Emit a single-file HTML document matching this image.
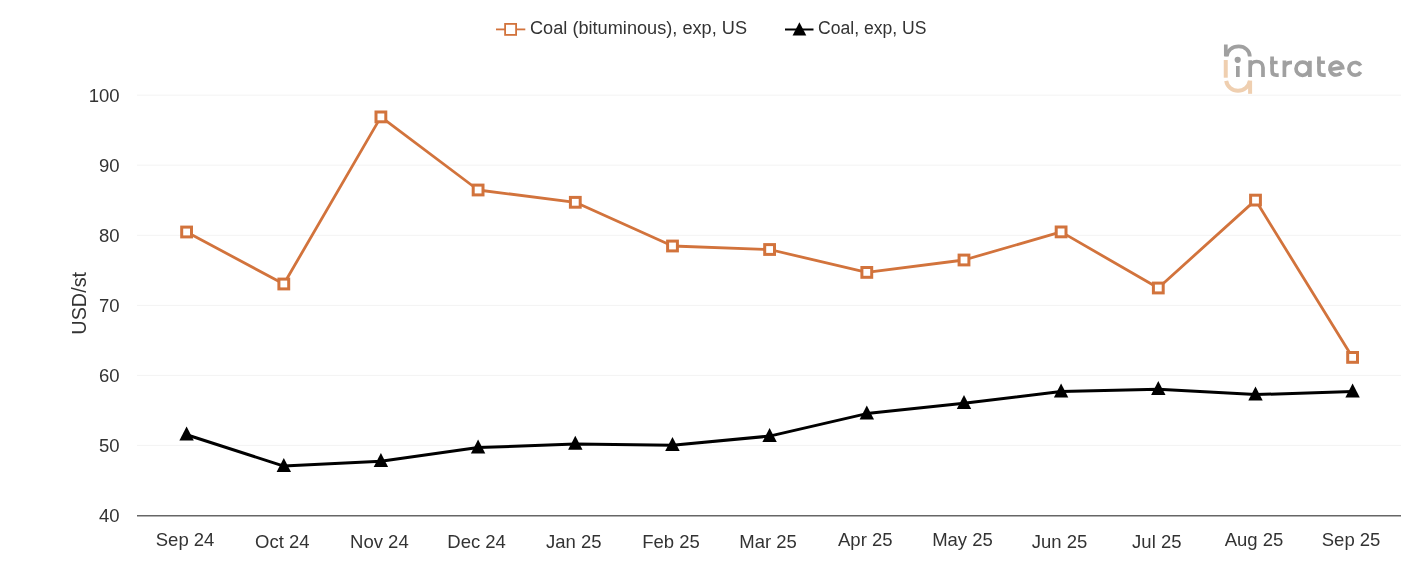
<!DOCTYPE html>
<html><head><meta charset="utf-8">
<style>
html,body{margin:0;padding:0;background:#fff;}
body{width:1401px;height:561px;overflow:hidden;position:relative;}
svg{position:absolute;left:0;top:0;will-change:transform;}
text{font-family:"Liberation Sans",sans-serif;}
</style></head><body>
<svg width="1401" height="561" viewBox="0 0 1401 561">

<line x1="137" y1="95.2" x2="1401" y2="95.2" stroke="#f3f3f3" stroke-width="1"/>
<line x1="137" y1="165.2" x2="1401" y2="165.2" stroke="#f3f3f3" stroke-width="1"/>
<line x1="137" y1="235.3" x2="1401" y2="235.3" stroke="#f3f3f3" stroke-width="1"/>
<line x1="137" y1="305.4" x2="1401" y2="305.4" stroke="#f3f3f3" stroke-width="1"/>
<line x1="137" y1="375.4" x2="1401" y2="375.4" stroke="#f3f3f3" stroke-width="1"/>
<line x1="137" y1="445.4" x2="1401" y2="445.4" stroke="#f3f3f3" stroke-width="1"/>
<line x1="137" y1="515.7" x2="1401" y2="515.7" stroke="#666" stroke-width="1.5"/>
<text x="119.6" y="101.7" font-size="18.5" fill="#333" text-anchor="end">100</text>
<text x="119.6" y="171.8" font-size="18.5" fill="#333" text-anchor="end">90</text>
<text x="119.6" y="241.8" font-size="18.5" fill="#333" text-anchor="end">80</text>
<text x="119.6" y="311.9" font-size="18.5" fill="#333" text-anchor="end">70</text>
<text x="119.6" y="381.9" font-size="18.5" fill="#333" text-anchor="end">60</text>
<text x="119.6" y="451.9" font-size="18.5" fill="#333" text-anchor="end">50</text>
<text x="119.6" y="522.0" font-size="18.5" fill="#333" text-anchor="end">40</text>
<text transform="translate(85.7,303.3) rotate(-90)" font-size="21" textLength="62.8" lengthAdjust="spacingAndGlyphs" fill="#333" text-anchor="middle">USD/st</text>
<text x="185.1" y="546.2" font-size="18.5" fill="#333" text-anchor="middle">Sep 24</text>
<text x="282.3" y="547.9" font-size="18.5" fill="#333" text-anchor="middle">Oct 24</text>
<text x="379.4" y="547.9" font-size="18.5" fill="#333" text-anchor="middle">Nov 24</text>
<text x="476.6" y="547.9" font-size="18.5" fill="#333" text-anchor="middle">Dec 24</text>
<text x="573.8" y="547.9" font-size="18.5" fill="#333" text-anchor="middle">Jan 25</text>
<text x="671.0" y="547.9" font-size="18.5" fill="#333" text-anchor="middle">Feb 25</text>
<text x="768.1" y="547.9" font-size="18.5" fill="#333" text-anchor="middle">Mar 25</text>
<text x="865.3" y="546.3" font-size="18.5" fill="#333" text-anchor="middle">Apr 25</text>
<text x="962.5" y="546.3" font-size="18.5" fill="#333" text-anchor="middle">May 25</text>
<text x="1059.6" y="547.9" font-size="18.5" fill="#333" text-anchor="middle">Jun 25</text>
<text x="1156.8" y="547.9" font-size="18.5" fill="#333" text-anchor="middle">Jul 25</text>
<text x="1254.0" y="546.3" font-size="18.5" fill="#333" text-anchor="middle">Aug 25</text>
<text x="1351.1" y="546.2" font-size="18.5" fill="#333" text-anchor="middle">Sep 25</text>
<polyline points="186.6,232.0 283.8,284.0 380.9,116.9 478.1,190.0 575.3,202.3 672.5,246.0 769.6,249.5 866.8,272.4 964.0,260.0 1061.1,231.9 1158.3,288.0 1255.5,200.1 1352.6,357.4" fill="none" stroke="#d2733c" stroke-width="2.8" stroke-linejoin="round" stroke-linecap="round"/>
<rect x="181.7" y="227.1" width="9.8" height="9.8" fill="#fff" stroke="#d2733c" stroke-width="3"/>
<rect x="278.9" y="279.1" width="9.8" height="9.8" fill="#fff" stroke="#d2733c" stroke-width="3"/>
<rect x="376.0" y="112.0" width="9.8" height="9.8" fill="#fff" stroke="#d2733c" stroke-width="3"/>
<rect x="473.2" y="185.1" width="9.8" height="9.8" fill="#fff" stroke="#d2733c" stroke-width="3"/>
<rect x="570.4" y="197.4" width="9.8" height="9.8" fill="#fff" stroke="#d2733c" stroke-width="3"/>
<rect x="667.6" y="241.1" width="9.8" height="9.8" fill="#fff" stroke="#d2733c" stroke-width="3"/>
<rect x="764.7" y="244.6" width="9.8" height="9.8" fill="#fff" stroke="#d2733c" stroke-width="3"/>
<rect x="861.9" y="267.5" width="9.8" height="9.8" fill="#fff" stroke="#d2733c" stroke-width="3"/>
<rect x="959.1" y="255.1" width="9.8" height="9.8" fill="#fff" stroke="#d2733c" stroke-width="3"/>
<rect x="1056.2" y="227.0" width="9.8" height="9.8" fill="#fff" stroke="#d2733c" stroke-width="3"/>
<rect x="1153.4" y="283.1" width="9.8" height="9.8" fill="#fff" stroke="#d2733c" stroke-width="3"/>
<rect x="1250.6" y="195.2" width="9.8" height="9.8" fill="#fff" stroke="#d2733c" stroke-width="3"/>
<rect x="1347.7" y="352.5" width="9.8" height="9.8" fill="#fff" stroke="#d2733c" stroke-width="3"/>
<polyline points="186.6,434.8 283.8,466.1 380.9,461.3 478.1,447.6 575.3,443.9 672.5,445.3 769.6,436.1 866.8,413.6 964.0,403.3 1061.1,391.6 1158.3,389.3 1255.5,394.6 1352.6,391.6" fill="none" stroke="#000" stroke-width="3" stroke-linejoin="round" stroke-linecap="round"/>
<path d="M186.6,426.6 L193.8,440.6 L179.4,440.6 Z" fill="#000"/>
<path d="M283.8,457.9 L291.0,471.9 L276.6,471.9 Z" fill="#000"/>
<path d="M380.9,453.1 L388.1,467.1 L373.7,467.1 Z" fill="#000"/>
<path d="M478.1,439.4 L485.3,453.4 L470.9,453.4 Z" fill="#000"/>
<path d="M575.3,435.7 L582.5,449.7 L568.1,449.7 Z" fill="#000"/>
<path d="M672.5,437.1 L679.7,451.1 L665.2,451.1 Z" fill="#000"/>
<path d="M769.6,427.9 L776.8,441.9 L762.4,441.9 Z" fill="#000"/>
<path d="M866.8,405.4 L874.0,419.4 L859.6,419.4 Z" fill="#000"/>
<path d="M964.0,395.1 L971.2,409.1 L956.8,409.1 Z" fill="#000"/>
<path d="M1061.1,383.4 L1068.3,397.4 L1053.9,397.4 Z" fill="#000"/>
<path d="M1158.3,381.1 L1165.5,395.1 L1151.1,395.1 Z" fill="#000"/>
<path d="M1255.5,386.4 L1262.7,400.4 L1248.3,400.4 Z" fill="#000"/>
<path d="M1352.6,383.4 L1359.8,397.4 L1345.4,397.4 Z" fill="#000"/>
<line x1="496" y1="29.4" x2="525.3" y2="29.4" stroke="#d2733c" stroke-width="1.8"/>
<rect x="505.1" y="23.9" width="11" height="11" fill="#fff" stroke="#d2733c" stroke-width="1.8"/>
<text x="530" y="34" font-size="18" textLength="217" lengthAdjust="spacingAndGlyphs" fill="#333">Coal (bituminous), exp, US</text>
<line x1="785" y1="29.5" x2="813.5" y2="29.5" stroke="#000" stroke-width="2"/>
<path d="M799.4,22.2 L806.3,35.6 L792.6,35.6 Z" fill="#000"/>
<text x="818" y="34" font-size="18" textLength="108.5" lengthAdjust="spacingAndGlyphs" fill="#333">Coal, exp, US</text>
<g id="logo" fill="none" stroke-linecap="butt">
<g stroke="#a0a0a0" stroke-width="3.7">
<path d="M1225.8,44.5 V56.4"/>
<path d="M1226.8,56.4 C1227.3,50.3 1232.2,46.45 1238.8,46.45 C1245,46.45 1249.8,50.8 1249.8,56.4"/>
<path d="M1237.85,66 V77"/>
<path d="M1250.2,60.3 V77.1 M1250.2,67.5 C1250.2,63.6 1253,61.5 1256.6,61.5 C1260.3,61.5 1263,63.8 1263,67.8 V77.1"/>
<path d="M1272.1,56.5 V71 Q1272.1,75.1 1276.2,75.1 H1278.7"/>
<path d="M1270.1,62.5 H1277.6" stroke-width="3.4"/>
<path d="M1284.4,60.6 V77 M1284.4,68 C1284.4,63.8 1287,62.3 1292,62.3"/>
<circle cx="1302.6" cy="68.7" r="6.6"/>
<path d="M1309.9,60.8 V77"/>
<path d="M1319,56.5 V71 Q1319,75.1 1323,75.1 H1325.7"/>
<path d="M1317.1,62.3 H1324.9" stroke-width="3.4"/>
<path d="M1329.8,69.5 L1342.6,67.6 A6.4,6.4 0 1 0 1341.1,72.8"/>
<path d="M1360.66,65.65 A6.3,6.3 0 1 0 1360.66,71.95"/>
</g>
<circle cx="1237.7" cy="59.8" r="3.1" fill="#a0a0a0"/>
<g stroke="#efcfb0" stroke-width="4">
<path d="M1225.75,60 V77.7"/>
<path d="M1226.18,80.88 A12,12 0 0 0 1249.82,80.88"/><path d="M1250.1,80.6 V93.8"/>
</g>
</g>
</svg></body></html>
